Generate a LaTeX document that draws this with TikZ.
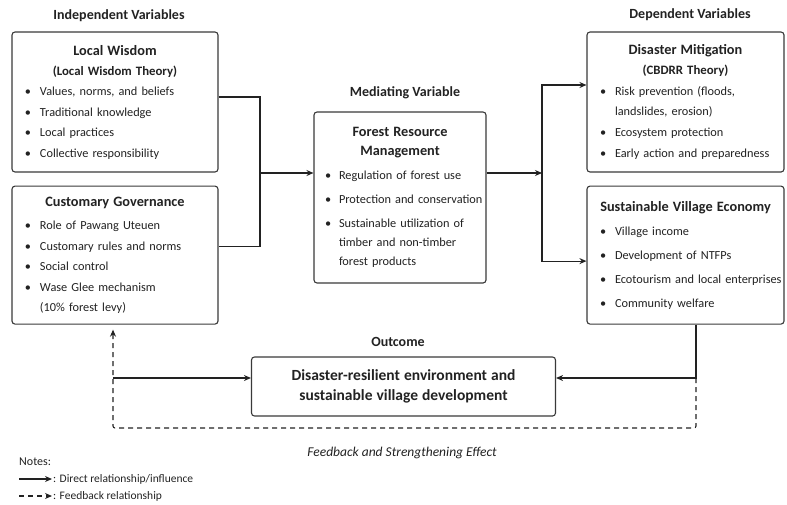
\documentclass[tikz,border=0pt]{standalone}
\usepackage{fontspec}
\setmainfont{Carlito}
\usetikzlibrary{arrows.meta,positioning,calc}
\definecolor{ink}{HTML}{222222}
\definecolor{rim}{HTML}{3A3A3A}
\setlength{\parskip}{0pt}
\newlength{\itmgap}
\newlength{\bulx}\setlength{\bulx}{13pt}
\newlength{\bulh}\setlength{\bulh}{28pt}
\newcommand{\bitem}[1]{\par\vspace{\itmgap}\hangindent=\bulh\hangafter=1\noindent\hbox to \bulh{\hskip\bulx\textbullet\hfil}#1\par}
\newcommand{\boxtitle}[1]{{\centering\fontsize{14.3}{19}\selectfont\bfseries #1\par}}
\newcommand{\subtitle}[1]{{\centering\fontsize{12.8}{20}\selectfont\bfseries #1\par}}
\tikzset{
  varbox/.style={rectangle, rounded corners=3pt, draw=rim, line width=1.1pt, fill=white, text=ink,
                 align=left, inner xsep=0pt, inner ysep=0pt, font=\fontsize{12.3}{20.5}\selectfont, text width=#1},
  hdr/.style={font=\fontsize{14}{16}\selectfont\bfseries, text=ink, inner sep=0pt},
  legtxt/.style={font=\fontsize{11.5}{13}\selectfont, text=ink, inner sep=1pt},
  link/.style={line width=1.1pt, draw=ink},
  arr/.style={-{Stealth[length=7pt,width=6pt]}, line width=1.1pt, draw=ink},
  fback/.style={arr, dash pattern=on 5pt off 4pt},
}

\begin{document}
\begin{tikzpicture}[x=1pt, y=-1pt, node distance=13pt]
  \useasboundingbox (0,0) rectangle (787,504);
  % independent variables
  \node[hdr] (ivlab) at (119,16) {Independent Variables};
  \node[varbox=206pt, minimum height=140pt] (lw) at (115,102) {\boxtitle{Local Wisdom}\subtitle{(Local Wisdom Theory)}%
    \bitem{Values, norms, and beliefs}\bitem{Traditional knowledge}\bitem{Local practices}\bitem{Collective responsibility}};
  \node[varbox=206pt, minimum height=138pt, below=of lw] (cg) {\boxtitle{Customary Governance}\vspace{3pt}%
    \bitem{Role of Pawang Uteuen}\bitem{Customary rules and norms}\bitem{Social control}\bitem{Wase Glee mechanism\break(10\% forest levy)}};
  % mediating variable
  \node[hdr] (mvlab) at (405,93) {Mediating Variable};
  \node[varbox=172pt, minimum height=171pt, font=\fontsize{12.3}{19}\selectfont] (frm) at (400,197.5) {\setlength{\itmgap}{5pt}%
    \setlength{\bulx}{11pt}\setlength{\bulh}{25pt}%
    \boxtitle{Forest Resource\\Management}%
    \bitem{Regulation of forest use}\bitem{Protection and conservation}\bitem{Sustainable utilization of\break timber and non-timber\break forest products}};
  % dependent variables
  \node[hdr] (dvlab) at (690,15) {Dependent Variables};
  \node[varbox=197pt, minimum height=140pt, font=\fontsize{12.3}{20}\selectfont] (dm) at (685.5,102) {\setlength{\itmgap}{1pt}%
    \boxtitle{Disaster Mitigation}\subtitle{(CBDRR Theory)}%
    \bitem{Risk prevention (floods,\break landslides, erosion)}\bitem{Ecosystem protection}\bitem{Early action and preparedness}};
  \node[varbox=197pt, minimum height=138pt, below=of dm, font=\fontsize{12.3}{20}\selectfont] (sve) {\setlength{\itmgap}{4pt}%
    \boxtitle{Sustainable Village Economy}%
    \bitem{Village income}\bitem{Development of NTFPs}\bitem{Ecotourism and local enterprises}\bitem{Community welfare}};
  % outcome
  \node[hdr] (oclab) at (398,342) {Outcome};
  \node[varbox=304pt, minimum height=59pt] (out) at (403.5,386.5) {{\centering\fontsize{15.5}{20}\selectfont\bfseries
    Disaster-resilient environment and\\sustainable village development\par}};

  % direct links
  \coordinate (j1) at (260,173);
  \coordinate (j2) at (542,173);
  \draw[link] ([yshift=5pt]lw.east) -| (j1) |- ([yshift=9pt]cg.east);
  \draw[arr] (j1) -- (j1 -| frm.west);
  \draw[arr] (j1 -| frm.east) -- (j2);
  \draw[arr] (j2) |- ([yshift=17pt]dm.west);
  \draw[arr] (j2) |- ([yshift=-6pt]sve.west);
  \coordinate (k1) at (696,378);
  \coordinate (k2) at (113,378);
  \coordinate (k3) at (696,428);
  \draw[arr] (k1 |- sve.south) -- (k1) -- (k1 -| out.east);
  \draw[arr] (k2) -- (k2 -| out.west);
  % feedback loop
  \draw[fback, rounded corners=2pt] (k1) -- (k3) -| ([yshift=-5pt]k2 |- cg.south);
  \node[font=\fontsize{13.5}{15}\selectfont\itshape, text=ink] (fbtxt) at (402,453) {Feedback and Strengthening Effect};

  % notes
  \node[legtxt, anchor=west, font=\fontsize{12}{14}\selectfont] (notes) at (18,462) {Notes:};
  \node[legtxt, anchor=west] (n1) at (52,479) {: Direct relationship/influence};
  \node[legtxt, anchor=west] (n2) at (52,496) {: Feedback relationship};
  \coordinate (d1) at (19,479);
  \coordinate (d2) at (19,496);
  \draw[arr] (d1) -- (n1.west);
  \draw[fback] (d2) -- (n2.west);
\end{tikzpicture}
\end{document}
